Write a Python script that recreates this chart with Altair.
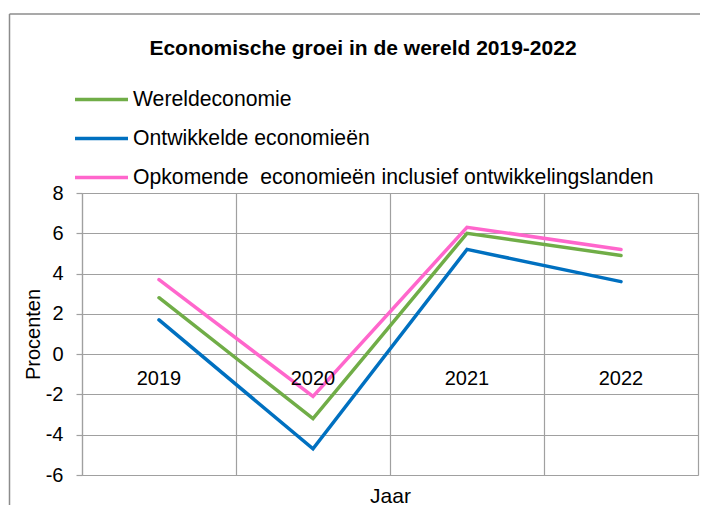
import altair as alt
import pandas as pd

years = ["2019", "2020", "2021", "2022"]
series_names = [
    "Wereldeconomie",
    "Ontwikkelde economieën",
    "Opkomende\u00a0 economieën inclusief ontwikkelingslanden",
]
wereld = [2.8, -3.2, 6.0, 4.9]
ontwikkeld = [1.7, -4.7, 5.2, 3.6]
opkomend = [3.7, -2.1, 6.3, 5.2]
y_ticks = [-6, -4, -2, 0, 2, 4, 6, 8]
colors = ["#70AD47", "#0070C0", "#FF66CC"]

rows = []
for name, vals in zip(series_names, [wereld, ontwikkeld, opkomend]):
    for yr, v in zip(years, vals):
        rows.append({"Jaar": yr, "Reeks": name, "Waarde": v})
df = pd.DataFrame(rows)
df_years = pd.DataFrame({"Jaar": years})

FONT = "Liberation Sans"
GRID = "#A0A0A0"
FRAME = "#8C8C8C"

x_scale = alt.Scale(domain=years, paddingInner=0, paddingOuter=0)
y_scale = alt.Scale(domain=[-6, 8], nice=False, zero=False)

lines = alt.Chart(df).mark_line(strokeWidth=3.5, strokeCap="round", strokeJoin="miter").encode(
    x=alt.X("Jaar:N", scale=x_scale, sort=years,
            axis=alt.Axis(title="Jaar", labels=False, ticks=False, domain=False,
                          grid=True, gridColor=GRID, gridWidth=1.2, tickBand="extent",
                          titleFontSize=21, titleFontWeight="normal", titleFont=FONT,
                          titleColor="black", titlePadding=10)),
    y=alt.Y("Waarde:Q", scale=y_scale,
            axis=alt.Axis(title="Procenten", values=y_ticks, grid=True, gridColor=GRID,
                          gridWidth=1.2, domainColor=GRID, domainWidth=1.2, tickColor=GRID,
                          tickWidth=1.2, tickSize=6, labelPadding=13, labelFontSize=20,
                          labelFont=FONT, labelColor="black", labelExpr="'' + datum.value",
                          titleFontSize=20, titleFont=FONT, titleFontWeight="normal",
                          titleColor="black", titlePadding=2)),
    color=alt.Color("Reeks:N", scale=alt.Scale(domain=series_names, range=colors),
                    legend=alt.Legend(title=None, orient="none", legendX=-9, legendY=-122,
                                      symbolType="stroke", symbolSize=2809,
                                      symbolStrokeWidth=3.5, labelFontSize=21.2,
                                      labelFont=FONT, labelColor="black", labelOffset=3,
                                      rowPadding=0, labelLimit=700)),
)

labels = alt.Chart(df_years).mark_text(fontSize=20, font=FONT, color="black", dy=25,
                                        baseline="middle").encode(
    x=alt.X("Jaar:N", scale=x_scale, sort=years),
    y=alt.datum(0),
    text="Jaar:N",
)

dummy = pd.DataFrame({"a": [0]})
frame_top = alt.Chart(dummy).mark_rule(color=FRAME, strokeWidth=1.5).encode(
    x=alt.value(-72.5), x2=alt.value(640), y=alt.value(-179))
frame_left = alt.Chart(dummy).mark_rule(color=FRAME, strokeWidth=1.5).encode(
    x=alt.value(-72.5), y=alt.value(-179), y2=alt.value(400))

chart = alt.layer(frame_top, frame_left, lines, labels).properties(
    width=616, height=282,
    title=alt.Title("Economische groei in de wereld 2019-2022", fontSize=21,
                    font=FONT, fontWeight="bold", color="black", anchor="middle",
                    frame="group", offset=0, dx=-27, dy=46),
    autosize=alt.AutoSizeParams(type="none"),
    padding={"left": 74, "top": 185, "right": 2, "bottom": 30},
).configure_view(stroke=GRID, strokeWidth=1.2).configure(background="white")

chart.save("out.html", embed_options={"renderer": "svg", "actions": False})
